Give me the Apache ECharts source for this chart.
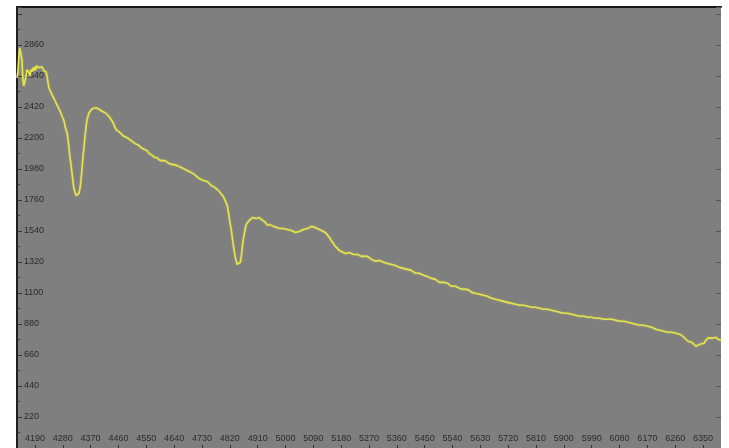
<!DOCTYPE html>
<html>
<head>
<meta charset="utf-8">
<script src="https://cdn.jsdelivr.net/npm/echarts@6/dist/echarts.min.js"></script>
<style>
  html, body { margin: 0; padding: 0; background: #ffffff; }
  #chart { width: 729px; height: 448px; }
</style>
</head>
<body>
<div id="chart"></div>
<script>
// Wavelength (Å) of each sample along the spectrum
const wavelength = [
  4132, 4135, 4138, 4141, 4145, 4148, 4151, 4154, 4158, 4161, 4164, 4167, 4171, 4174, 4177, 4180,
  4184, 4187, 4190, 4193, 4196, 4200, 4203, 4206, 4209, 4213, 4216, 4219, 4222, 4226, 4229, 4232,
  4235, 4239, 4245, 4252, 4258, 4264, 4271, 4277, 4284, 4287, 4290, 4294, 4297, 4300, 4303, 4307,
  4310, 4313, 4316, 4320, 4323, 4326, 4329, 4332, 4336, 4339, 4342, 4345, 4349, 4352, 4355, 4358,
  4362, 4365, 4368, 4375, 4381, 4387, 4391, 4394, 4400, 4404, 4407, 4410, 4417, 4423, 4430, 4436,
  4443, 4449, 4455, 4462, 4468, 4475, 4481, 4488, 4494, 4501, 4507, 4514, 4520, 4527, 4533, 4540,
  4546, 4553, 4559, 4566, 4572, 4578, 4585, 4591, 4598, 4604, 4611, 4617, 4624, 4630, 4637, 4643,
  4650, 4656, 4663, 4669, 4676, 4682, 4689, 4695, 4702, 4708, 4714, 4721, 4727, 4734, 4740, 4747,
  4753, 4760, 4766, 4773, 4779, 4786, 4792, 4799, 4805, 4812, 4815, 4818, 4821, 4825, 4828, 4831,
  4834, 4837, 4841, 4844, 4847, 4850, 4854, 4857, 4860, 4863, 4867, 4870, 4873, 4880, 4886, 4893,
  4899, 4905, 4909, 4915, 4922, 4928, 4935, 4941, 4948, 4954, 4961, 4967, 4973, 4980, 4986, 4993,
  4999, 5006, 5012, 5019, 5025, 5032, 5038, 5045, 5051, 5058, 5064, 5071, 5077, 5084, 5090, 5096,
  5103, 5109, 5116, 5122, 5129, 5135, 5142, 5148, 5155, 5161, 5168, 5174, 5181, 5187, 5194, 5200,
  5207, 5213, 5220, 5226, 5233, 5239, 5245, 5252, 5258, 5265, 5271, 5278, 5284, 5291, 5297, 5304,
  5310, 5317, 5330, 5343, 5355, 5368, 5381, 5394, 5407, 5420, 5433, 5446, 5459, 5472, 5485, 5498,
  5511, 5524, 5537, 5550, 5563, 5576, 5589, 5602, 5614, 5627, 5640, 5653, 5666, 5679, 5692, 5705,
  5718, 5731, 5744, 5757, 5770, 5783, 5796, 5809, 5822, 5835, 5848, 5860, 5873, 5886, 5899, 5912,
  5925, 5938, 5951, 5964, 5977, 5990, 6003, 6016, 6029, 6042, 6055, 6068, 6081, 6094, 6107, 6120,
  6132, 6145, 6158, 6171, 6184, 6197, 6210, 6223, 6236, 6249, 6262, 6275, 6288, 6301, 6307, 6314,
  6320, 6327, 6333, 6340, 6346, 6353, 6359, 6366, 6372, 6379, 6385, 6391, 6398, 6408
];

// Measured intensity (counts) at each wavelength
const intensity = [
  2626, 2668, 2767, 2838, 2845, 2753, 2612, 2569, 2576, 2633, 2683, 2697, 2661, 2640, 2683, 2668,
  2697, 2675, 2704, 2683, 2711, 2725, 2697, 2711, 2683, 2704, 2690, 2675, 2683, 2668, 2640, 2598,
  2555, 2534, 2506, 2477, 2449, 2421, 2392, 2357, 2322, 2286, 2258, 2237, 2187, 2130, 2067, 2003,
  1946, 1890, 1840, 1812, 1791, 1777, 1784, 1805, 1847, 1904, 1975, 2060, 2145, 2215, 2272, 2322,
  2357, 2378, 2392, 2407, 2421, 2414, 2421, 2407, 2414, 2392, 2400, 2385, 2378, 2364, 2350, 2343,
  2307, 2272, 2251, 2244, 2230, 2215, 2208, 2201, 2187, 2180, 2173, 2159, 2145, 2145, 2130, 2123,
  2109, 2109, 2088, 2081, 2067, 2060, 2060, 2045, 2038, 2031, 2038, 2024, 2017, 2024, 2010, 2003,
  2003, 1996, 1989, 1975, 1975, 1968, 1961, 1961, 1946, 1932, 1925, 1911, 1904, 1897, 1883, 1890,
  1876, 1862, 1862, 1847, 1833, 1819, 1805, 1784, 1755, 1720, 1677, 1635, 1593, 1543, 1493, 1444,
  1401, 1359, 1324, 1302, 1288, 1295, 1317, 1359, 1416, 1472, 1522, 1557, 1586, 1607, 1621, 1635,
  1642, 1628, 1642, 1635, 1621, 1607, 1600, 1579, 1586, 1572, 1572, 1579, 1564, 1557, 1564, 1557,
  1550, 1550, 1543, 1543, 1536, 1529, 1529, 1536, 1543, 1550, 1543, 1557, 1564, 1572, 1579, 1564,
  1557, 1557, 1543, 1536, 1529, 1515, 1493, 1472, 1451, 1430, 1416, 1401, 1394, 1387, 1380, 1380,
  1387, 1380, 1373, 1366, 1373, 1366, 1359, 1359, 1352, 1359, 1345, 1338, 1338, 1324, 1324, 1331,
  1324, 1317, 1309, 1302, 1295, 1281, 1274, 1267, 1260, 1239, 1239, 1225, 1217, 1203, 1196, 1175,
  1175, 1168, 1147, 1147, 1132, 1125, 1125, 1104, 1097, 1090, 1083, 1076, 1062, 1055, 1048, 1040,
  1033, 1026, 1019, 1012, 1012, 1005, 998, 998, 991, 984, 984, 977, 970, 963, 956, 956,
  948, 941, 934, 934, 927, 927, 920, 920, 913, 913, 913, 906, 899, 899, 892, 885,
  878, 871, 871, 864, 856, 842, 835, 828, 821, 821, 814, 807, 786, 757, 771, 750,
  736, 722, 722, 736, 750, 743, 764, 779, 786, 779, 793, 786, 771, 764
];

// Tick labels along each axis
const xTicks = [4190, 4280, 4370, 4460, 4550, 4640, 4730, 4820, 4910, 5000, 5090, 5180, 5270,
                5360, 5450, 5540, 5630, 5720, 5810, 5900, 5990, 6080, 6170, 6260, 6350];
const yTicks = [220, 440, 660, 880, 1100, 1320, 1540, 1760, 1980, 2200, 2420, 2640, 2860];

const points = wavelength.map((w, i) => [w, intensity[i]]);

// Plain integers, no thousands separators
const plain = (v) => String(Math.round(v));

const labelFont = {
  fontFamily: '"Liberation Sans", Arial, sans-serif',
  fontSize: 9,
  color: '#2b2b2b'
};

const chart = echarts.init(document.getElementById('chart'), null, { renderer: 'canvas' });

chart.setOption({
  animation: false,
  backgroundColor: '#ffffff',
  grid: {
    left: 17, right: 8, top: 7, bottom: -1,
    show: true,
    backgroundColor: '#7f7f7f',
    borderWidth: 0
  },
  xAxis: [
    {
      type: 'value',
      min: 4132, max: 6408,
      position: 'bottom',
      axisLine: { show: false },
      axisTick: {
        show: true, inside: true, length: 3,
        customValues: xTicks,
        lineStyle: { color: '#333333', width: 1 }
      },
      axisLabel: Object.assign({
        show: true, inside: true, margin: 5,
        customValues: xTicks,
        formatter: plain
      }, labelFont),
      splitLine: { show: false }
    },
    {
      type: 'value',
      min: 4132, max: 6408,
      position: 'top',
      axisLine: { show: true, onZero: false, lineStyle: { color: '#161616', width: 2 } },
      axisTick: { show: false },
      axisLabel: { show: false },
      splitLine: { show: false }
    }
  ],
  yAxis: [
    {
      type: 'value',
      min: 0, max: 3128,
      interval: 220,
      position: 'left',
      axisLine: { show: true, onZero: false, lineStyle: { color: '#1e1e1e', width: 2 } },
      axisTick: { show: true, inside: true, length: 5, lineStyle: { color: '#333333', width: 1 } },
      minorTick: { show: true, splitNumber: 2, length: 3, lineStyle: { color: '#3a3a3a', width: 1 } },
      axisLabel: Object.assign({
        show: true, inside: true, margin: 7,
        customValues: yTicks,
        formatter: plain
      }, labelFont),
      splitLine: { show: false }
    },
    {
      type: 'value',
      min: 0, max: 3128,
      interval: 220,
      position: 'right',
      axisLine: { show: false },
      axisTick: { show: true, inside: true, length: 5, lineStyle: { color: '#555555', width: 1 } },
      axisLabel: { show: false },
      splitLine: { show: false }
    }
  ],
  series: [
    {
      type: 'line',
      xAxisIndex: 0,
      yAxisIndex: 0,
      data: points,
      showSymbol: false,
      smooth: false,
      lineStyle: {
        color: '#e4e44c',
        width: 1.6,
        shadowColor: 'rgba(235, 235, 90, 0.45)',
        shadowBlur: 2
      }
    }
  ]
});
</script>
</body>
</html>
